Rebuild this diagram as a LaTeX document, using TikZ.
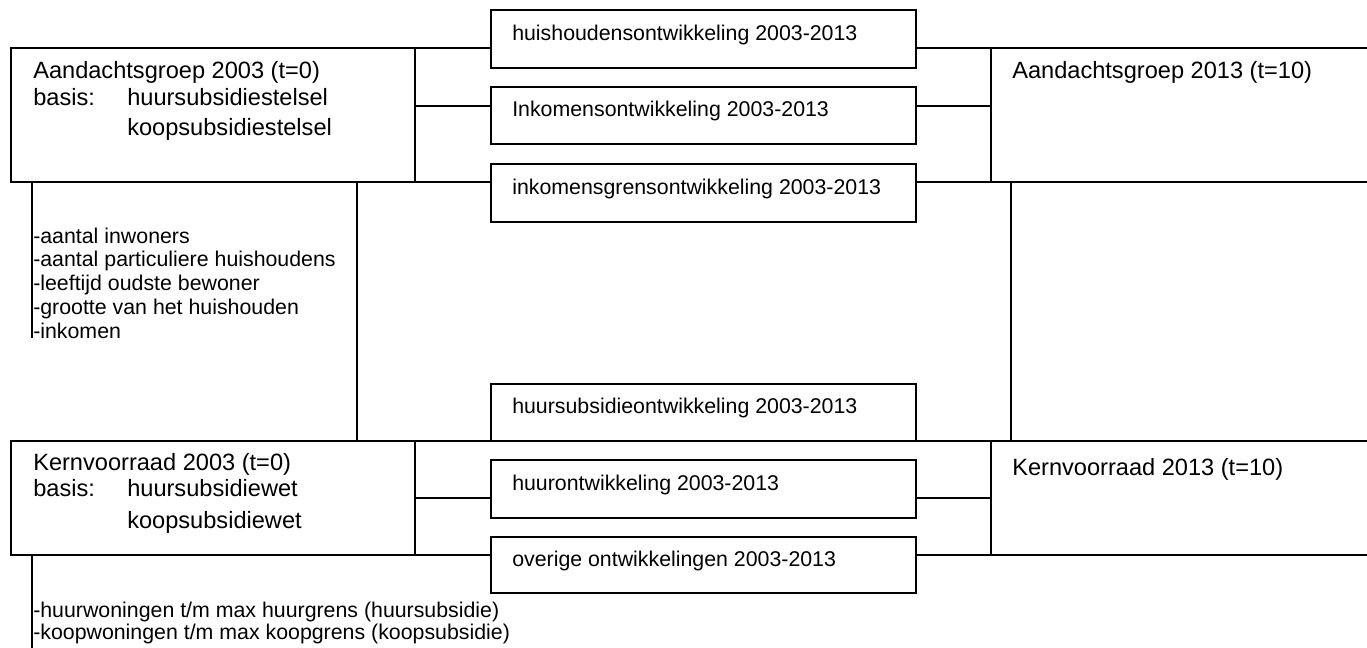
\documentclass[tikz,border=0pt]{standalone}
\usepackage{fontspec}
\setmainfont{Liberation Sans}
\begin{document}
\begin{tikzpicture}[x=0.75pt,y=-0.75pt,
  box/.style={draw, line width=1.2pt, rectangle, inner sep=0pt, outer sep=0pt, anchor=north west},
  conn/.style={line width=1.2pt},
  big/.style={anchor=west, inner sep=0pt, font=\fontsize{17.7}{21}\selectfont, text height=0.72em, text depth=0.21em},
  small/.style={anchor=west, inner sep=0pt, font=\fontsize{16}{19}\selectfont, text height=0.72em, text depth=0.21em},
]
\useasboundingbox (0,0) rectangle (1367,647);
% main boxes
\node[box, minimum width=303pt, minimum height=100.5pt] (A03) at (11,48) {};
\node[box, minimum width=295.5pt, minimum height=100.5pt] (A13) at (991,48) {};
\node[box, minimum width=303pt, minimum height=85.5pt] (K03) at (11,441) {};
\node[box, minimum width=295.5pt, minimum height=85.5pt] (K13) at (991,441) {};
% middle boxes
\node[box, minimum width=318.75pt, minimum height=43.5pt] (M1) at (491,10) {};
\node[box, minimum width=318.75pt, minimum height=42.75pt] (M2) at (491,87) {};
\node[box, minimum width=318.75pt, minimum height=43.5pt] (M3) at (491,164) {};
\node[box, minimum width=318.75pt, minimum height=42.75pt] (M4) at (491,384) {};
\node[box, minimum width=318.75pt, minimum height=43.5pt] (M5) at (491,460) {};
\node[box, minimum width=318.75pt, minimum height=42pt] (M6) at (491,537) {};
% texts of main boxes
\node[big] (a03t) at (33,75) {Aandachtsgroep 2003 (t=0)};
\node[big] (a03b) at (33,102) {basis:};
\node[big] (a03h) at (127,102) {huursubsidiestelsel};
\node[big] (a03k) at (127,132) {koopsubsidiestelsel};
\node[big] (a13t) at (1012,75) {Aandachtsgroep 2013 (t=10)};
\node[big] (k03t) at (33,467) {Kernvoorraad 2003 (t=0)};
\node[big] (k03b) at (33,493) {basis:};
\node[big] (k03h) at (127,493) {huursubsidiewet};
\node[big] (k03k) at (127,525) {koopsubsidiewet};
\node[big] (k13t) at (1012,472) {Kernvoorraad 2013 (t=10)};
% texts of middle boxes
\node[small] (m1t) at ([shift={(21,-2)}]M1.west) {huishoudensontwikkeling 2003-2013};
\node[small] (m2t) at ([shift={(21,-2)}]M2.west) {Inkomensontwikkeling 2003-2013};
\node[small] (m3t) at ([shift={(21,-2)}]M3.west) {inkomensgrensontwikkeling 2003-2013};
\node[small] (m4t) at ([shift={(21,-2)}]M4.west) {huursubsidieontwikkeling 2003-2013};
\node[small] (m5t) at ([shift={(21,-2)}]M5.west) {huurontwikkeling 2003-2013};
\node[small] (m6t) at ([shift={(21,-2)}]M6.west) {overige ontwikkelingen 2003-2013};
% lists
\node[small] (l1) at (33,240) {-aantal inwoners};
\node[small] (l2) at (33,263) {-aantal particuliere huishoudens};
\node[small] (l3) at (33,287) {-leeftijd oudste bewoner};
\node[small] (l4) at (33,311) {-grootte van het huishouden};
\node[small] (l5) at (33,335) {-inkomen};
\node[small] (l6) at (33,614) {-huurwoningen t/m max huurgrens (huursubsidie)};
\node[small] (l7) at (33,636) {-koopwoningen t/m max koopgrens (koopsubsidie)};
% connectors left upper
\coordinate (ua) at (415,106);
\draw[conn] (A03.north east) -- (A03.north east -| M1.west);
\draw[conn] (ua) -- (ua -| M2.west);
\draw[conn] (A03.south east) -- (A03.south east -| M3.west);
% connectors right upper
\coordinate (ub) at (916,106);
\draw[conn] (M1.east |- A13.north west) -- (A13.north west);
\draw[conn] (ub) -- (ub -| A13.west);
\draw[conn] (M3.east |- A13.south west) -- (A13.south west);
% verticals between halves
\coordinate (vl) at (357,182);
\draw[conn] (vl) -- (vl |- K03.north);
\coordinate (vr) at (1011,182);
\draw[conn] (vr) -- (vr |- K13.north);
% connectors left lower
\coordinate (la) at (415,498);
\draw[conn] (K03.north east) -- (M4.south west);
\draw[conn] (la) -- (la -| M5.west);
\draw[conn] (K03.south east) -- (K03.south east -| M6.west);
% connectors right lower
\coordinate (lb) at (916,498);
\draw[conn] (M4.south east) -- (K13.north west);
\draw[conn] (lb) -- (lb -| K13.west);
\draw[conn] (M6.east |- K13.south west) -- (K13.south west);
% list brackets
\coordinate (b1) at (32,182);
\coordinate (b2) at (32,555);
\draw[conn] (b1) -- ++(0,156);
\draw[conn] (b2) -- ++(0,100);
\end{tikzpicture}
\end{document}
